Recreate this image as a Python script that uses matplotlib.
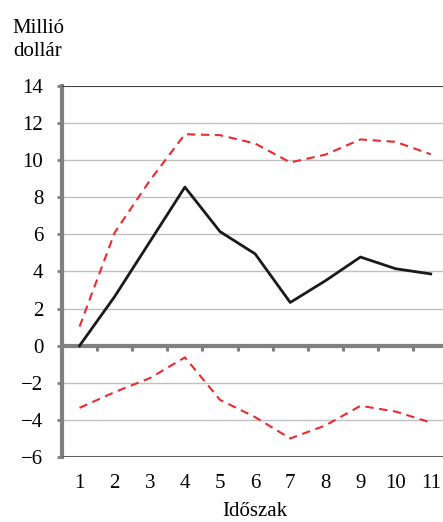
import matplotlib
matplotlib.use("Agg")
import matplotlib.pyplot as plt
import numpy as np

plt.rcParams['font.family'] = ['Liberation Serif', 'DejaVu Serif']

periods = [1, 2, 3, 4, 5, 6, 7, 8, 9, 10, 11]
forecast = [0, 2.65, 5.6, 8.55, 6.15, 4.95, 2.33, 3.5, 4.78, 4.15, 3.87]
upper = [1.03, 6.1, 8.9, 11.4, 11.35, 10.9, 9.88, 10.3, 11.12, 10.99, 10.32]
lower = [-3.35, -2.5, -1.75, -0.63, -2.92, -3.85, -5.0, -4.3, -3.24, -3.55, -4.14]
yticks = [-6, -4, -2, 0, 2, 4, 6, 8, 10, 12, 14]

W, H = 443, 522
fig = plt.figure(figsize=(W / 100, H / 100), dpi=100)
ax = fig.add_axes([62 / W, 1 - 457 / H, 1 - 62 / W, (457 - 86) / H])

grey = '#808080'
red = '#ec2a30'

# grid lines
for y in yticks:
    if y not in (-6, 0, 14):
        ax.axhline(y, color='#c0c0c0', lw=1.0, zorder=1)
ax.axhline(0, color=grey, lw=3, zorder=3)
ax.axhline(14, color='#404040', lw=1.5, zorder=3)
ax.axhline(-6, color='#606060', lw=2.2, zorder=3)
ax.vlines(np.arange(1.5, 11, 1.0), -0.28, 0, color=grey, lw=2.2, zorder=3)

ax.plot(periods, upper, color=red, lw=1.5, dashes=(4, 2.7), zorder=4)
ax.plot(periods, lower, color=red, lw=1.5, dashes=(4, 2.7), zorder=4)
ax.plot(periods, forecast, color='#1a1a1a', lw=2.0, zorder=5)

ax.set_xlim(0.5, 11.35)
ax.set_ylim(-6, 14)

for s in ['top', 'right', 'bottom']:
    ax.spines[s].set_visible(False)
ax.spines['left'].set_color(grey)
ax.spines['left'].set_linewidth(3)

ax.set_yticks(yticks)
ax.set_yticklabels([f'{v}'.replace('-', '\u2212') for v in yticks])
ax.tick_params(axis='y', length=3.5, width=2, color=grey, pad=10, labelsize=15)
ax.set_xticks(periods)
ax.tick_params(axis='x', length=0, pad=12, labelsize=15)

fig.text(38 / W, 1 - 40 / H, 'Millió\ndollár', ha='center', va='center',
         fontsize=15, linespacing=1.3)
fig.text(255 / W, 1 - 511 / H, 'Időszak', ha='center', va='center', fontsize=15)

fig.savefig('out.png', dpi=100)
